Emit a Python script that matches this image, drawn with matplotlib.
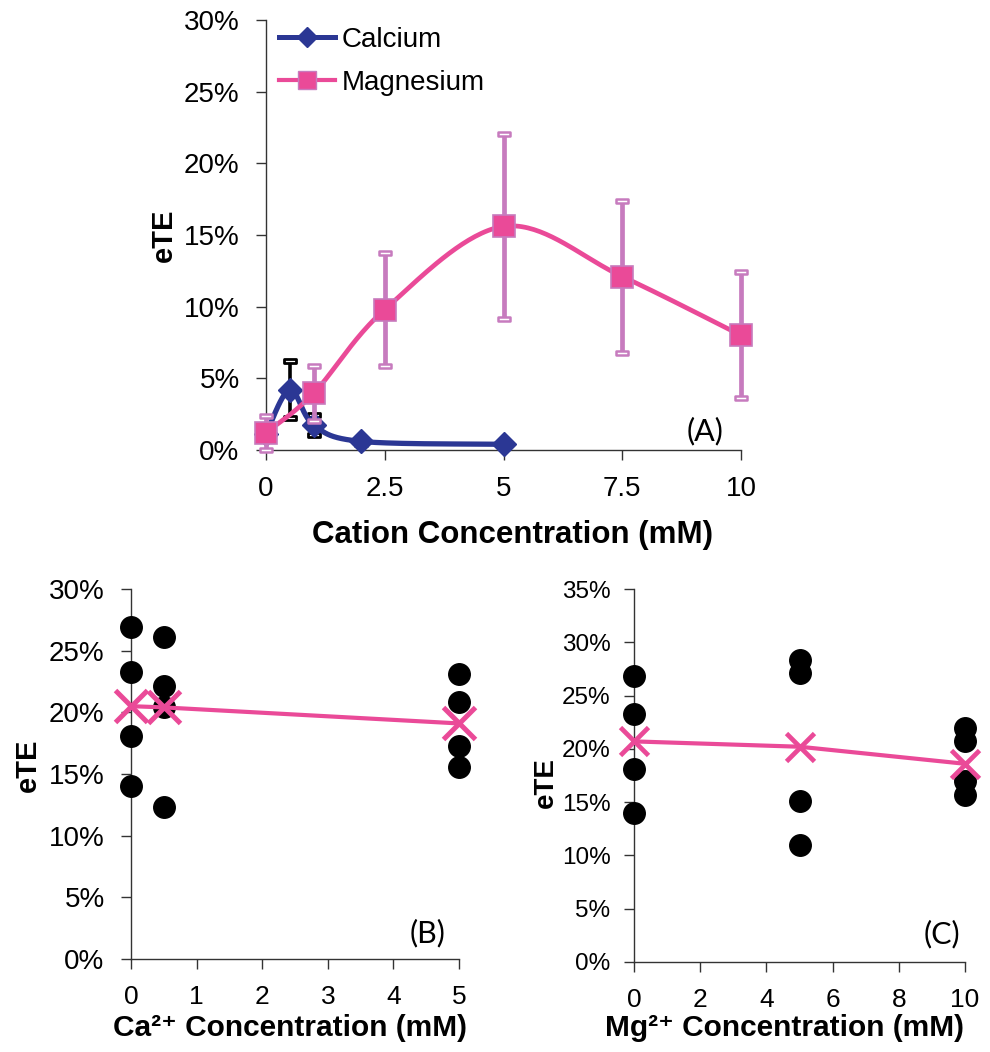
import numpy as np
import matplotlib
matplotlib.use("Agg")
import matplotlib.pyplot as plt
from matplotlib.path import Path
from matplotlib.ticker import FuncFormatter, MultipleLocator

plt.rcParams['font.family'] = ['Liberation Sans', 'DejaVu Sans']

# ---------------- data ----------------
# Panel A
ca_x = [0, 0.5, 1, 2, 5]
ca_y = [1.1, 4.2, 1.75, 0.6, 0.4]
ca_err = [0.3, 2.0, 0.7, 0.2, 0.1]

mg_x = [0, 1, 2.5, 5, 7.5, 10]
mg_y = [1.2, 3.95, 9.8, 15.6, 12.1, 8.0]
mg_err = [1.2, 1.9, 3.95, 6.45, 5.3, 4.4]

# Panel B (Ca2+)
b_x = [0, 0.5, 5]
b_vals = [[26.9, 23.3, 18.1, 14.0],
          [26.1, 22.1, 20.4, 12.3],
          [23.1, 20.8, 17.3, 15.6]]
b_mean = [20.5, 20.4, 19.1]

# Panel C (Mg2+)
c_x = [0, 5, 10]
c_vals = [[26.8, 23.3, 18.1, 14.0],
          [28.3, 27.1, 15.1, 11.0],
          [22.0, 20.7, 17.0, 15.7]]
c_mean = [20.7, 20.2, 18.6]

a_xticks = [0, 2.5, 5, 7.5, 10]
a_xticklabels = ['0', '2.5', '5', '7.5', '10']

# ---------------- helpers ----------------
def smooth(xs, ys, n=40):
    """Excel-like smoothed line (cubic Bezier with Catmull-Rom tangents)."""
    P = np.column_stack([xs, ys]).astype(float)
    m = len(P)
    out = []
    for i in range(m - 1):
        p0 = P[max(i - 1, 0)]
        p1 = P[i]
        p2 = P[i + 1]
        p3 = P[min(i + 2, m - 1)]
        c1 = p1 + (p2 - p0) / 6.0
        c2 = p2 - (p3 - p1) / 6.0
        t = np.linspace(0, 1, n)[:, None]
        seg = ((1 - t) ** 3) * p1 + 3 * ((1 - t) ** 2) * t * c1 + 3 * (1 - t) * t ** 2 * c2 + t ** 3 * p2
        out.append(seg if i == 0 else seg[1:])
    out = np.vstack(out)
    return out[:, 0], out[:, 1]

cap_path = Path([(-1, -0.38), (1, -0.38), (1, 0.38), (-1, 0.38), (-1, -0.38)],
                [Path.MOVETO, Path.LINETO, Path.LINETO, Path.LINETO, Path.CLOSEPOLY])

pct = FuncFormatter(lambda v, p: f"{v:.0f}%")

CA_BLUE = '#2B3794'
MG_PINK = '#EA4A98'
MG_ERR = '#C77BBE'
AX_COL = '#333333'

def style_axes(ax, xsize, ysize, ypad=12):
    for s in ['top', 'right']:
        ax.spines[s].set_visible(False)
    for s in ['left', 'bottom']:
        ax.spines[s].set_color(AX_COL)
        ax.spines[s].set_linewidth(1.0)
    ax.tick_params(direction='out', length=7, width=1.0, color=AX_COL)
    ax.tick_params(axis='x', labelsize=xsize, pad=12)
    ax.tick_params(axis='y', labelsize=ysize, pad=ypad)

def place_labels(ax, xl_pos, yl_pos):
    ax.xaxis.set_label_coords(*xl_pos)
    ax.yaxis.set_label_coords(*yl_pos)
    ax.xaxis.label.set_va('center')
    ax.yaxis.label.set_va('center')

fig = plt.figure(figsize=(9.9, 10.52), dpi=100)

# ---------------- Panel A ----------------
axA = fig.add_axes([266 / 990, 1 - 450 / 1052, 475 / 990, 430 / 1052])
style_axes(axA, 20, 20)
axA.set_xlim(0, 10)
axA.set_ylim(0, 30)
axA.set_xticks(a_xticks)
axA.set_xticklabels(a_xticklabels)
axA.yaxis.set_major_locator(MultipleLocator(5))
axA.yaxis.set_major_formatter(pct)

# Calcium error bars
axA.errorbar(ca_x, ca_y, yerr=ca_err, fmt='none', ecolor='black', elinewidth=2.6, capsize=0, zorder=2, clip_on=False)
ca_lo = np.array(ca_y) - np.array(ca_err)
ca_hi = np.array(ca_y) + np.array(ca_err)
axA.plot(ca_x, ca_lo, ls='none', marker=cap_path, ms=9, mfc='white', mec='black', mew=2.0, zorder=2, clip_on=False)
axA.plot(ca_x, ca_hi, ls='none', marker=cap_path, ms=9, mfc='white', mec='black', mew=2.0, zorder=2, clip_on=False)
sx, sy = smooth(ca_x, ca_y)
axA.plot(sx, sy, color=CA_BLUE, lw=3.8, zorder=3, clip_on=False, solid_capstyle='round')
axA.plot(ca_x, ca_y, ls='none', marker='D', ms=12, mfc=CA_BLUE, mec=CA_BLUE, zorder=3, clip_on=False)

# Magnesium error bars
axA.errorbar(mg_x, mg_y, yerr=mg_err, fmt='none', ecolor=MG_ERR, elinewidth=3.4, capsize=0, zorder=4, clip_on=False)
mg_lo = np.array(mg_y) - np.array(mg_err)
mg_hi = np.array(mg_y) + np.array(mg_err)
axA.plot(mg_x, mg_lo, ls='none', marker=cap_path, ms=9, mfc='white', mec=MG_ERR, mew=1.8, zorder=4, clip_on=False)
axA.plot(mg_x, mg_hi, ls='none', marker=cap_path, ms=9, mfc='white', mec=MG_ERR, mew=1.8, zorder=4, clip_on=False)
sx, sy = smooth(mg_x, mg_y)
axA.plot(sx, sy, color=MG_PINK, lw=3.4, zorder=5, clip_on=False)
axA.plot(mg_x, mg_y, ls='none', marker='s', ms=16, mfc=MG_PINK, mec=MG_ERR, mew=1.2, zorder=5, clip_on=False)

# legend handles
hCa, = axA.plot([], [], color=CA_BLUE, lw=3.6, marker='D', ms=10, mfc=CA_BLUE, mec=CA_BLUE)
hMg, = axA.plot([], [], color=MG_PINK, lw=3.0, marker='s', ms=13, mfc=MG_PINK, mec=MG_ERR)
axA.legend([hCa, hMg], ['Calcium', 'Magnesium'], loc='upper left', bbox_to_anchor=(0.005, 1.01),
           frameon=False, fontsize=20, handlelength=2.0, handletextpad=0.25, labelspacing=0.62,
           borderaxespad=0)

axA.set_ylabel('eTE', fontsize=21, fontweight='bold')
axA.set_xlabel('Cation Concentration (mM)', fontsize=22.5, fontweight='bold')
place_labels(axA, (0.52, -0.198), (-0.215, 0.5))
axA.text(0.925, 0.045, '(A)', transform=axA.transAxes, fontsize=22, family=['Lato', 'DejaVu Sans'],
         ha='center', va='center')

# ---------------- Panel B ----------------
axB = fig.add_axes([131 / 990, 1 - 959 / 1052, 328 / 990, 370 / 1052])
style_axes(axB, 19, 20)
axB.set_xlim(0, 5)
axB.set_ylim(0, 30)
axB.xaxis.set_major_locator(MultipleLocator(1))
axB.yaxis.set_major_locator(MultipleLocator(5))
axB.yaxis.set_major_formatter(pct)
for xv, vals in zip(b_x, b_vals):
    axB.plot([xv] * len(vals), vals, ls='none', marker='o', ms=15.5, mfc='black', mec='black',
             zorder=3, clip_on=False)
axB.plot(b_x, b_mean, color=MG_PINK, lw=3.0, zorder=4, clip_on=False)
axB.plot(b_x, b_mean, ls='none', marker='x', ms=23, mew=3.6, color=MG_PINK, zorder=5, clip_on=False)
axB.set_ylabel('eTE', fontsize=21, fontweight='bold')
axB.set_xlabel('Ca²⁺ Concentration (mM)', fontsize=21.5, fontweight='bold')
place_labels(axB, (0.485, -0.186), (-0.315, 0.525))
axB.text(0.905, 0.07, '(B)', transform=axB.transAxes, fontsize=22, family=['Lato', 'DejaVu Sans'],
         ha='center', va='center')

# ---------------- Panel C ----------------
axC = fig.add_axes([634 / 990, 1 - 962 / 1052, 331 / 990, 373 / 1052])
style_axes(axC, 19, 17.5, ypad=10)
axC.set_xlim(0, 10)
axC.set_ylim(0, 35)
axC.xaxis.set_major_locator(MultipleLocator(2))
axC.yaxis.set_major_locator(MultipleLocator(5))
axC.yaxis.set_major_formatter(pct)
for xv, vals in zip(c_x, c_vals):
    axC.plot([xv] * len(vals), vals, ls='none', marker='o', ms=15.5, mfc='black', mec='black',
             zorder=3, clip_on=False)
axC.plot(c_x, c_mean, color=MG_PINK, lw=3.0, zorder=4, clip_on=False)
axC.plot(c_x, c_mean, ls='none', marker='x', ms=20, mew=3.4, color=MG_PINK, zorder=5, clip_on=False)
axC.set_ylabel('eTE', fontsize=20, fontweight='bold')
axC.set_xlabel('Mg²⁺ Concentration (mM)', fontsize=21.5, fontweight='bold')
place_labels(axC, (0.455, -0.177), (-0.265, 0.48))
axC.text(0.93, 0.075, '(C)', transform=axC.transAxes, fontsize=22, family=['Lato', 'DejaVu Sans'],
         ha='center', va='center')

fig.savefig('out.png', dpi=100, facecolor='white')
